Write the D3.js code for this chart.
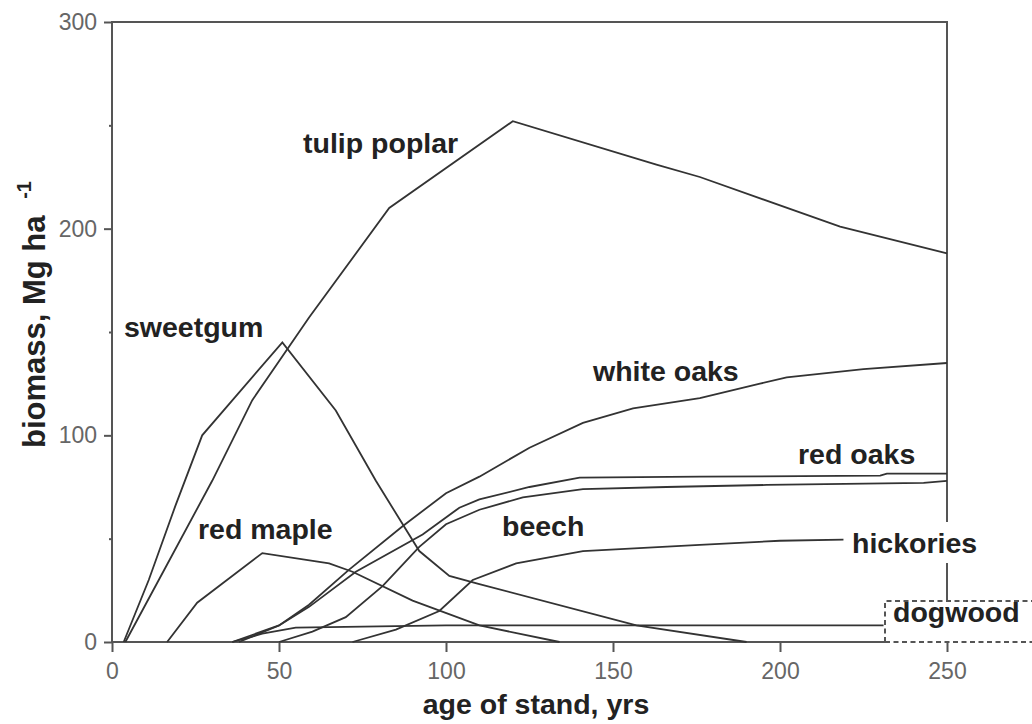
<!DOCTYPE html>
<meta charset="utf-8">
<style>
body { margin: 0; background: #fff; }
.tick text { font: 23px "Liberation Sans", Arial, sans-serif; fill: #666; }
.label { font: bold 28.5px "Liberation Sans", Arial, sans-serif; fill: #222; }
.curve { fill: none; stroke: #333; stroke-width: 1.8px; }
.frame { stroke: #555; stroke-width: 2px; fill: none; }
</style>
<svg width="1032" height="724"></svg>
<script src="https://cdn.jsdelivr.net/npm/d3@7"></script>
<script>

// [age of stand (yrs), biomass (Mg/ha)]
var tulipPoplar = [[4,0],[14,30],[30,78],[42,117],[59,157],[83,210],[120,252],[163,231],[176,225],[218,201],[250,188]];
var sweetgum = [[3.5,0],[11,30],[19,66],[27,100],[51,145],[67,112],[79,78],[92,44],[101,32],[110,28],[157,8],[190,0]];
var redMaple = [[16.5,0],[25.5,19],[45,43],[65,38],[72,34],[90,20],[110,8],[134,0]];
var whiteOaks = [[36,0],[50,8],[59,18],[71,35],[87,56],[100,72],[110,80],[125,94],[141,106],[156,113],[176,118],[194,125],[202,128],[225,132],[250,135]];
var redOaks = [[38,0],[50,8],[59,17],[73,34],[93,52],[104,65],[110,69],[125,75],[140,79.5],[176,80],[230,80.5],[232,81.5],[250,81.5]];
var beech = [[50,0],[60,5],[70,12],[81,27],[92,46],[100,57],[110,64],[123,70],[141,74],[166,75],[196,76],[243,77],[250,78]];
var hickories = [[72,0],[85,6],[98,15],[108,30],[121,38],[141,44],[176,47],[200,49],[219,49.5]];
var dogwood = [[36,0],[45,4],[55,7],[100,8],[231,8]];

var xTicks = [0, 50, 100, 150, 200, 250];
var yTicks = [0, 100, 200, 300];
var yMinorTicks = [50, 150, 250];

var labels = [
  {text: "tulip poplar", x: 303, y: 153},
  {text: "sweetgum", x: 124, y: 337},
  {text: "white oaks", x: 593, y: 381},
  {text: "red oaks", x: 798, y: 464},
  {text: "red maple", x: 198, y: 539},
  {text: "beech", x: 502, y: 536},
  {text: "hickories", x: 852, y: 553},
  {text: "dogwood", x: 893, y: 622}
];

var svg = d3.select("svg");

var x = d3.scaleLinear().domain([0, 250]).range([112, 947]);
var y = d3.scaleLinear().domain([0, 300]).range([642, 22]);

var line = d3.line()
    .x(function(d) { return x(d[0]); })
    .y(function(d) { return y(d[1]); });

// axes
var yAxis = svg.append("g")
    .attr("transform", "translate(" + x(0) + ",0)")
    .call(d3.axisLeft(y).tickValues(yTicks).tickSize(8).tickPadding(7));
yAxis.select(".domain").remove();
yAxis.selectAll(".tick line").attr("stroke", "#555").attr("stroke-width", 2);

var yMinor = svg.append("g")
    .attr("transform", "translate(" + x(0) + ",0)")
    .call(d3.axisLeft(y).tickValues(yMinorTicks).tickSize(3).tickFormat(""));
yMinor.select(".domain").remove();
yMinor.selectAll(".tick line").attr("stroke", "#555").attr("stroke-width", 2);

var xAxis = svg.append("g")
    .attr("transform", "translate(0," + y(0) + ")")
    .call(d3.axisBottom(x).tickValues(xTicks).tickSize(10).tickPadding(11));
xAxis.select(".domain").remove();
xAxis.selectAll(".tick line").attr("stroke", "#555").attr("stroke-width", 2);

// frame, the right side is broken by the hickories and dogwood labels
var boxLeft = 885, boxTop = 601;
svg.append("path").attr("class", "frame")
    .attr("d", "M" + boxLeft + "," + y(0) + "H" + x(0) + "V" + y(300) + "H" + x(250) + "V522");
svg.append("path").attr("class", "frame")
    .attr("d", "M" + x(250) + ",563V" + boxTop);
svg.append("path").attr("class", "frame")
    .attr("stroke-dasharray", "5,3.5")
    .attr("d", "M" + boxLeft + "," + y(0) + "H1040M" + boxLeft + "," + y(0) + "V" + boxTop + "H1040");

// curves
[tulipPoplar, sweetgum, redMaple, whiteOaks, redOaks, beech, hickories, dogwood].forEach(function(s) {
  svg.append("path").attr("class", "curve").attr("d", line(s));
});

// labels
svg.selectAll("text.label")
  .data(labels)
  .enter().append("text")
    .attr("class", "label")
    .attr("x", function(d) { return d.x; })
    .attr("y", function(d) { return d.y; })
    .text(function(d) { return d.text; });

svg.append("text")
    .attr("class", "label")
    .attr("x", 536).attr("y", 714)
    .attr("text-anchor", "middle")
    .text("age of stand, yrs");

var yt = svg.append("text")
    .attr("class", "label")
    .style("font-size", "31px")
    .attr("transform", "translate(45,448) rotate(-90)");
yt.append("tspan").text("biomass, Mg ha ");
yt.append("tspan").attr("dx", 8).attr("dy", -14).style("font-size", "20px").text("-1");

</script>
